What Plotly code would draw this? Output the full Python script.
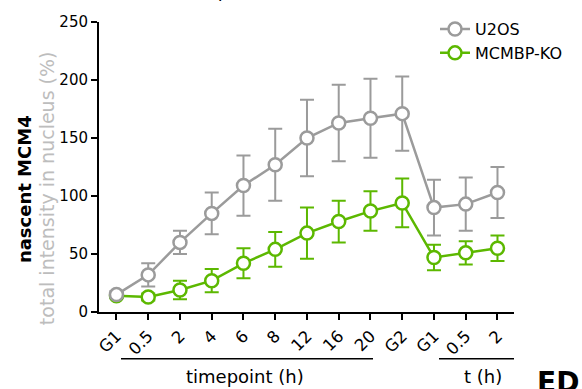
import plotly.graph_objects as go

# Time course of nascent MCM4 signal in the nucleus (mean ± error)
timepoints = ["G1", "0.5", "2", "4", "6", "8", "12", "16", "20", "G2", "G1", "0.5", "2"]
u2os_mean = [15, 32, 60, 85, 109, 127, 150, 163, 167, 171, 90, 93, 103]
u2os_err = [3, 10, 10, 18, 26, 31, 33, 33, 34, 32, 24, 23, 22]
ko_mean = [14, 13, 19, 27, 42, 54, 68, 78, 87, 94, 47, 51, 55]
ko_err = [2, 3, 8, 10, 13, 15, 22, 18, 17, 21, 11, 10, 11]
y_ticks = [0, 50, 100, 150, 200, 250]

GREY = "#9b9b9b"
GREEN = "#5cb800"
FONT = "DejaVu Sans"

W, H = 582, 389
L, R, T, B = 99, 68, 17, 77
PW, PH = W - L - R, H - T - B
X_RANGE = [-0.55, 12.52]


def px_x(p):
    return (p - L) / PW


def px_y(p):
    return (H - B - p) / PH


def data_x(p):
    return X_RANGE[0] + (p - L) / PW * (X_RANGE[1] - X_RANGE[0])


xs = list(range(len(timepoints)))


def series(name, mean, err, color):
    return go.Scatter(
        x=xs, y=mean, name=name, mode="lines+markers",
        line=dict(color=color, width=2.5),
        marker=dict(symbol="circle", size=13, color="white",
                    line=dict(color=color, width=2.5)),
        error_y=dict(type="data", array=err, visible=True,
                     color=color, thickness=2, width=7),
        cliponaxis=False,
    )


fig = go.Figure()
fig.add_trace(series("MCMBP-KO", ko_mean, ko_err, GREEN))
fig.add_trace(series("U2OS", u2os_mean, u2os_err, GREY))

fig.update_layout(
    width=W, height=H,
    margin=dict(l=L, r=R, t=T, b=B, pad=0),
    paper_bgcolor="white", plot_bgcolor="white",
    font=dict(family=FONT, size=15, color="black"),
    showlegend=True,
    legend=dict(x=px_x(435), y=px_y(7), xanchor="left", yanchor="top",
                traceorder="reversed", font=dict(size=16, color="black"),
                bgcolor="rgba(0,0,0,0)", itemwidth=30),
    xaxis=dict(range=X_RANGE, tickmode="array", tickvals=xs, ticktext=timepoints,
               tickangle=-45, showgrid=False, zeroline=False,
               showline=True, linecolor="black", linewidth=2,
               ticks="outside", ticklen=6, tickwidth=2, tickcolor="black",
               tickfont=dict(size=16.5, color="black")),
    yaxis=dict(range=[0, 250], tickmode="array", tickvals=y_ticks,
               showgrid=False, zeroline=False,
               showline=True, linecolor="black", linewidth=2,
               ticks="outside", ticklen=6, tickwidth=2, tickcolor="black",
               tickfont=dict(size=15, color="black")),
)

# y-axis titles
fig.add_annotation(text="<b>nascent MCM4</b>", textangle=-90,
                   xref="paper", yref="paper", x=px_x(24), y=px_y(187),
                   xanchor="center", yanchor="middle", showarrow=False,
                   font=dict(family=FONT, size=18, color="black"))
fig.add_annotation(text="total intensity in nucleus (%)", textangle=-90,
                   xref="paper", yref="paper", x=px_x(47), y=px_y(186),
                   xanchor="center", yanchor="middle", showarrow=False,
                   font=dict(family=FONT, size=19, color="#bdbdbd"))

# grouping brackets under the x axis
for x0, x1 in [(data_x(121), data_x(373)), (data_x(439), data_x(515))]:
    fig.add_shape(type="line", xref="x", yref="paper", x0=x0, x1=x1,
                  y0=px_y(359.5), y1=px_y(359.5),
                  line=dict(color="black", width=1.5))
for label, cx in [("timepoint (h)", 244.5), ("t (h)", 482.5)]:
    fig.add_annotation(text=label, xref="x", yref="paper", x=data_x(cx), y=px_y(378),
                       xanchor="center", yanchor="middle", showarrow=False,
                       font=dict(family=FONT, size=18, color="black"))

# axis titles of the panel above, cut at the top edge
for label, cx in [("timepoint (h)", 236), ("t (h)", 483)]:
    fig.add_annotation(text=label, xref="x", yref="paper", x=data_x(cx), y=px_y(-3),
                       xanchor="center", yanchor="bottom", showarrow=False,
                       borderpad=0, font=dict(family=FONT, size=18, color="black"))

# panel letter
fig.add_annotation(text="<b>ED</b>", xref="paper", yref="paper",
                   x=px_x(535), y=px_y(384), xanchor="left", yanchor="middle",
                   showarrow=False, font=dict(family=FONT, size=28, color="black"))

fig.write_html("out.html")
